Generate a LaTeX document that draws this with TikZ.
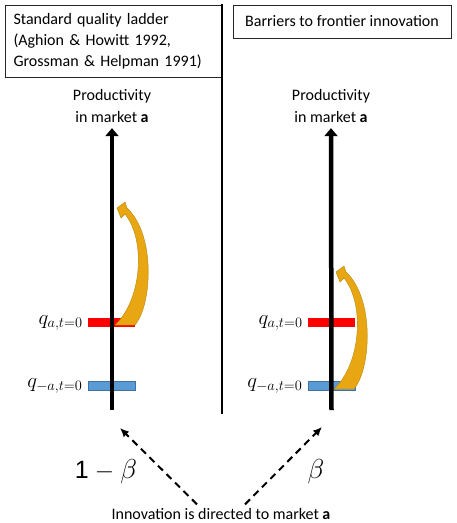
\documentclass[tikz,border=0pt]{standalone}
\usepackage{fontspec}
\setmainfont{Carlito}
\newfontfamily\digitfont{Liberation Sans}
\usetikzlibrary{positioning, arrows.meta}
\definecolor{barRed}{HTML}{FF0000}
\definecolor{barBlue}{HTML}{5B9BD5}
\definecolor{borderBlue}{HTML}{41719C}
\definecolor{jumpGold}{HTML}{E8A712}
\definecolor{borderGold}{HTML}{B8860B}

\begin{document}
\begin{tikzpicture}[
    x=1pt, y=-1pt,
    font=\fontsize{16}{21}\selectfont,
    titleBox/.style={draw=black!85, line width=1pt, inner sep=0pt},
    axisLine/.style={line width=4.5pt, -{Triangle[length=8pt, width=13pt]}},
    bar/.style={minimum width=47pt, minimum height=9pt, inner sep=0pt},
    redBar/.style={bar, fill=barRed},
    blueBar/.style={bar, fill=barBlue, draw=borderBlue, line width=0.8pt},
    qLabel/.style={inner sep=0pt, font=\fontsize{22}{24}\selectfont},
    betaLabel/.style={font=\fontsize{27}{30}\selectfont},
    dashArrow/.style={line width=2pt, dash pattern=on 7pt off 5pt, -{Latex[length=9pt, width=8pt]}},
    ladderJump/.pic={
        \filldraw[fill=jumpGold, draw=borderGold, line width=0.4pt]
            (0,0) .. controls (27,-25) and (31,-85) .. (10,-111)
            -- (6,-107) -- (2,-117) -- (10,-123) -- (12,-117)
            .. controls (41,-90) and (37,-20) .. (20,0) -- cycle;
    }
]
\useasboundingbox (0,0) rectangle (456,523);

% headings
\node[titleBox, inner xsep=8pt, minimum height=72pt, text width=200pt, align=left] (stdBox) at (113.5,41) {Standard quality ladder\\(Aghion \& Howitt 1992,\\Grossman \& Helpman 1991)};
\node[titleBox, minimum width=218pt, minimum height=33pt, align=center] (barBox) at (342,21.5) {Barriers to frontier innovation};

\draw[line width=1.3pt] (222,4) -- (222,414);

\node[align=center, font=\fontsize{16}{22}\selectfont] (prodL) at (112,106) {Productivity\\in market \textbf{a}};
\node[align=center, font=\fontsize{16}{22}\selectfont] (prodR) at (331,106) {Productivity\\in market \textbf{a}};

% left ladder
\node[redBar] (qaL) at (111.5,322.5) {};
\node[blueBar] (qnL) at (111.5,386) {};
\node[qLabel, left=5pt of qaL] (qaTextL) {$q_{a,t=0}$};
\node[qLabel, left=5pt of qnL] (qnTextL) {$q_{-a,t=0}$};
\pic at (115,325) {ladderJump};
\coordinate (baseL) at (112,410);
\draw[axisLine] (baseL) -- ([yshift=-2pt]prodL.south);

% right ladder
\node[redBar] (qaR) at (331.5,322.5) {};
\node[blueBar] (qnR) at (331.5,386) {};
\node[qLabel, left=5pt of qaR] (qaTextR) {$q_{a,t=0}$};
\node[qLabel, left=5pt of qnR] (qnTextR) {$q_{-a,t=0}$};
\pic at (334,389) {ladderJump};
\coordinate (baseR) at (331.5,410);
\draw[axisLine] (baseR) -- ([yshift=-2pt]prodR.south);

% probabilities
\node[betaLabel] (oneMinusBeta) at (106,472) {{\digitfont\fontsize{25}{28}\selectfont 1} $-$ \scalebox{1.1}{$\beta$}};
\node[betaLabel] (betaR) at (316,472) {\scalebox{1.1}{$\beta$}};

\node (innov) at (221,513.5) {Innovation is directed to market \textbf{a}};
\coordinate (targetL) at (120,428);
\coordinate (targetR) at (322,427);
\draw[dashArrow] ([xshift=-24pt]innov.north) -- (targetL);
\draw[dashArrow] ([xshift=24pt]innov.north) -- (targetR);

\end{tikzpicture}
\end{document}
